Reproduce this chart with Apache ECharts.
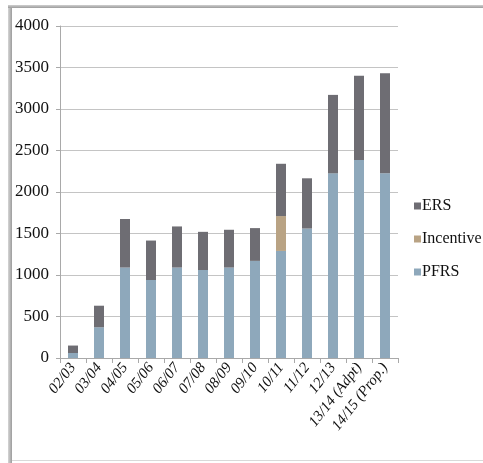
<!DOCTYPE html>
<html>
<head>
<meta charset="utf-8">
<script src="https://cdn.jsdelivr.net/npm/echarts@6/dist/echarts.min.js"></script>
<style>
  html, body { margin: 0; padding: 0; background: #fff; }
  #chart { width: 483px; height: 463px; }
</style>
</head>
<body>
<div id="chart"></div>
<script>
// Fiscal years
const years = ['02/03', '03/04', '04/05', '05/06', '06/07', '07/08', '08/09',
               '09/10', '10/11', '11/12', '12/13', '13/14 (Adpt)', '14/15 (Prop.)'];
// Stacked components
const pfrs      = [60, 370, 1090, 940, 1090, 1060, 1090, 1170, 1290, 1560, 2225, 2385, 2225];
const incentive = [0, 0, 0, 0, 0, 0, 0, 0, 420, 0, 0, 0, 0];
const ers       = [90, 260, 585, 475, 495, 460, 455, 395, 630, 605, 945, 1015, 1205];
const yTicks    = [0, 500, 1000, 1500, 2000, 2500, 3000, 3500, 4000];

const serif = '"Liberation Serif", "DejaVu Serif", serif';
const colors = { PFRS: '#8ea8bb', Incentive: '#b9a384', ERS: '#6e6d73' };

const chart = echarts.init(document.getElementById('chart'));

function bar(name, data) {
  return {
    name, type: 'bar', stack: 'total', data,
    barWidth: 10,
    itemStyle: { color: colors[name] },
    emphasis: { disabled: true }
  };
}

chart.setOption({
  animation: false,
  backgroundColor: '#fff',
  textStyle: { fontFamily: serif },
  graphic: [
    // panel frame
    { type: 'rect', shape: { x: 8, y: 8, width: 4, height: 455 },
      style: { fill: new echarts.graphic.LinearGradient(0, 0, 1, 0, [
        { offset: 0, color: '#d6d6d6' }, { offset: 1, color: '#9c9c9c' }]) }, silent: true },
    { type: 'rect', shape: { x: 8, y: 5, width: 475, height: 3 },
      style: { fill: new echarts.graphic.LinearGradient(0, 0, 0, 1, [
        { offset: 0, color: '#cfcfcf' }, { offset: 1, color: '#9c9c9c' }]) }, silent: true },
    { type: 'rect', shape: { x: 12, y: 460, width: 471, height: 1 },
      style: { fill: '#d9d9d9' }, silent: true }
  ],
  grid: { left: 60, right: 85, top: 26, bottom: 105, containLabel: false },
  legend: {
    orient: 'vertical', left: 409, top: 193,
    itemWidth: 7, itemHeight: 7, itemGap: 17,
    icon: 'rect',
    data: ['ERS', 'Incentive', 'PFRS'],
    textStyle: { fontFamily: serif, fontSize: 16, color: '#111', padding: [0, 0, 0, -4] },
    selectedMode: false
  },
  xAxis: {
    type: 'category', data: years,
    axisLine: { lineStyle: { color: '#a9a9a9' } },
    axisTick: { show: true, length: 5, lineStyle: { color: '#a9a9a9' } },
    axisLabel: { interval: 0, rotate: 52, margin: 7, fontFamily: serif, fontSize: 15,
                 fontStyle: 'italic', color: '#111' }
  },
  yAxis: {
    type: 'value', min: yTicks[0], max: yTicks[yTicks.length - 1], interval: 500,
    axisLine: { show: true, lineStyle: { color: '#a9a9a9' } },
    axisTick: { show: true, length: 4, lineStyle: { color: '#a9a9a9' } },
    splitLine: { lineStyle: { color: '#c4c4c4' } },
    axisLabel: { margin: 11, fontFamily: serif, fontSize: 17, color: '#111',
                 formatter: v => String(v) }
  },
  series: [bar('PFRS', pfrs), bar('Incentive', incentive), bar('ERS', ers)]
});
</script>
</body>
</html>
